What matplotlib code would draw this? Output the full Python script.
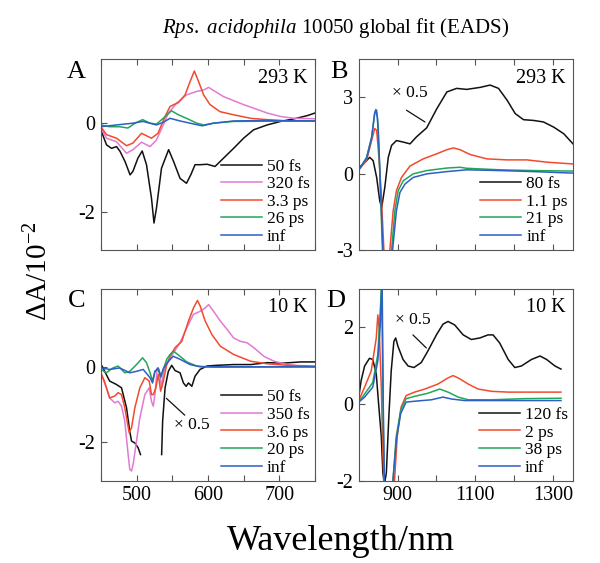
import numpy as np
import matplotlib
matplotlib.use("Agg")
import matplotlib.pyplot as plt
from matplotlib.ticker import MultipleLocator

plt.rcParams['font.family'] = 'Liberation Serif'
plt.rcParams['mathtext.fontset'] = 'custom'
plt.rcParams['mathtext.rm'] = 'Liberation Serif'
plt.rcParams['mathtext.it'] = 'Liberation Serif:italic'
plt.rcParams['axes.unicode_minus'] = False

# ---- Panel A (293 K, visible) ----
a_black_wl = [450, 458, 465, 472, 477, 484, 491, 495, 502, 508, 514, 521, 524.5, 528, 535, 545,
              552, 561, 570, 576, 582, 589, 599, 610, 622, 636, 650, 664, 683, 702, 721, 739, 750]
a_black = [-0.15, -0.49, -0.57, -0.53, -0.64, -0.87, -1.17, -1.09, -0.79, -0.63, -0.94, -1.70, -2.26,
           -1.92, -1.02, -0.60, -0.87, -1.25, -1.36, -1.17, -0.94, -0.94, -0.93, -0.98, -0.79, -0.57,
           -0.34, -0.15, -0.04, 0.04, 0.10, 0.17, 0.23]
a_pink_wl = [450, 458, 472, 486, 495, 507, 519, 528, 537.5, 544.6, 556, 570, 584.5, 594, 601, 610,
             622, 636, 650, 664, 683, 702, 721, 750]
a_pink = [-0.11, -0.34, -0.42, -0.68, -0.60, -0.43, -0.53, -0.38, -0.04, 0.23, 0.45, 0.64, 0.72,
          0.75, 0.81, 0.72, 0.60, 0.51, 0.42, 0.34, 0.23, 0.15, 0.11, 0.10]
a_red_wl = [450, 458, 472, 486, 495, 507, 521, 530, 540, 547, 559, 568, 575, 581, 587, 594, 603,
            617, 636, 660, 683, 711, 750]
a_red = [-0.08, -0.26, -0.34, -0.51, -0.45, -0.23, -0.34, -0.23, 0.15, 0.38, 0.47, 0.64, 0.94,
         1.18, 0.94, 0.64, 0.42, 0.26, 0.19, 0.11, 0.08, 0.05, 0.05]
a_green_wl = [450, 462, 476.5, 488, 498, 508.5, 519, 528, 537.5, 549, 558.7, 570, 584.5, 594, 608, 636, 750]
a_green = [-0.04, -0.08, -0.08, -0.11, 0.0, 0.08, 0.0, -0.02, 0.11, 0.28, 0.19, 0.11, 0.0, -0.04,
           0.0, 0.04, 0.05]
a_blue_wl = [450, 472, 495, 509, 528, 537.5, 547, 561, 575, 592, 608, 636, 683, 750]
a_blue = [-0.08, -0.04, 0.0, 0.04, -0.04, 0.02, 0.11, 0.05, 0.0, -0.06, 0.0, 0.05, 0.06, 0.05]
a_labels = ['50 fs', '320 fs', '3.3 ps', '26 ps', 'inf']

# ---- Panel B (293 K, near-IR) ----
b_black_wl = [802, 820, 828, 837, 846, 854, 859, 867, 876, 884.5, 897, 914.5, 932, 949, 975, 1001,
              1027, 1052, 1078, 1113, 1138.5, 1160, 1182, 1203, 1224.5, 1250.6, 1276, 1302, 1328, 1352]
b_black = [0.25, 0.51, 0.64, 0.51, -0.15, -1.07, -1.33, -0.54, 0.64, 1.11, 1.30, 1.24, 1.17, 1.45,
           1.80, 2.55, 3.21, 3.35, 3.31, 3.39, 3.48, 3.35, 2.89, 2.36, 2.12, 2.09, 2.03, 1.83, 1.57, 1.17]
b_red_wl = [802, 820, 833, 841, 846, 852.6, 858.7, 864.6, 872, 880, 888.6, 897, 910, 932, 966,
            1001, 1027, 1044, 1061, 1087, 1130, 1182, 1233, 1285, 1352]
b_red = [0.19, 0.51, 1.30, 1.77, 1.70, 0.51, -1.07, -3.0, -4.5, -3.0, -1.46, -0.67, -0.15, 0.30,
         0.58, 0.78, 0.94, 1.01, 0.94, 0.75, 0.58, 0.54, 0.54, 0.45, 0.38]
b_green_wl = [802, 820, 833, 841, 846, 850, 856, 861, 872, 884.5, 893, 901.5, 914.5, 940, 975,
              1027, 1061, 1078, 1164, 1250, 1352]
b_green = [0.19, 0.64, 1.43, 2.36, 2.49, 1.83, -0.80, -3.0, -4.5, -3.0, -1.46, -0.67, -0.28, -0.01,
           0.12, 0.22, 0.25, 0.21, 0.15, 0.12, 0.10]
b_blue_wl = [802, 820, 833, 841, 844, 848, 852, 857, 862, 874, 887, 897, 906, 919, 940, 975, 1027,
             1078, 1164, 1250, 1352]
b_blue = [0.19, 0.60, 1.40, 2.40, 2.52, 2.20, 1.00, -1.00, -3.0, -4.5, -3.0, -1.46, -0.74, -0.41,
          -0.15, -0.01, 0.08, 0.15, 0.12, 0.08, 0.02]
b_labels = ['80 fs', '1.1 ps', '21 ps', 'inf']

# ---- Panel C (10 K, visible) ----
c_black_wl = [450, 462.4, 471.8, 479, 486, 490.6, 493, 497.7, 502.3, 505.6, 520, 535.2, 536.6, 540,
              544.6, 549.3, 554, 561, 565.7, 569.5, 572.8, 577.5, 582, 589, 598.6, 612.7, 636, 660,
              683, 706.6, 730, 750]
c_black = [0.08, -0.38, -0.47, -0.56, -1.09, -1.72, -1.98, -2.03, -2.16, -2.34, np.nan, -2.34, -1.45,
           -0.56, -0.12, 0.04, -0.10, -0.16, -0.43, -0.52, -0.43, -0.52, -0.25, -0.07, 0.02, 0.04,
           0.06, 0.06, 0.11, 0.10, 0.13, 0.13]
c_pink_wl = [450, 457.7, 462.4, 469.5, 474.2, 479, 483.6, 488.3, 490.6, 493, 495.3, 500, 504.7,
             511.7, 517.8, 521, 523.5, 525.8, 529, 532, 535.2, 537.6, 542.3, 547, 551.6, 561, 570.4,
             579.8, 589.2, 596.2, 601, 608, 617.4, 626.8, 636, 645.5, 655, 664.3, 678.4, 692.5,
             711.3, 730, 750]
c_pink = [-0.16, -0.56, -0.83, -0.96, -0.92, -1.05, -1.45, -2.34, -2.74, -2.78, -2.60, -1.98, -1.36,
          -0.74, -0.56, -0.92, -1.05, -0.74, -0.03, -0.12, -0.56, -0.16, 0.06, 0.20, 0.37, 0.64,
          1.04, 1.40, 1.48, 1.57, 1.66, 1.48, 1.22, 1.00, 0.77, 0.68, 0.64, 0.51, 0.28, 0.15, 0.06,
          0.02, 0.0]
c_red_wl = [450, 455, 462.4, 469.5, 474.2, 479, 483.6, 489.7, 493, 497.7, 504.7, 511.7, 517.8, 521,
            523.5, 527.2, 530.5, 533.8, 537.6, 542.3, 547, 554, 563.4, 572.8, 579.8, 585.4, 589.2,
            596.2, 605.6, 617.4, 636, 659.6, 683, 711.3, 750]
c_red = [-0.16, -0.38, -0.83, -0.78, -0.69, -0.74, -1.09, -1.76, -1.63, -1.09, -0.56, -0.29, -0.38,
         -0.74, -0.74, -0.56, -0.20, -0.65, -0.38, 0.06, 0.28, 0.51, 0.68, 1.22, 1.57, 1.77, 1.62,
         1.22, 0.86, 0.55, 0.33, 0.15, 0.08, 0.04, 0.02]
c_green_wl = [450, 457.7, 467, 474.2, 483.6, 490.6, 500, 508.5, 514, 519, 522.5, 525.8, 530.5, 534,
              537.6, 542.3, 547, 551.6, 561, 570.4, 584.5, 608, 750]
c_green = [-0.07, -0.16, -0.03, 0.02, -0.16, -0.12, 0.06, 0.24, 0.11, -0.16, -0.38, -0.12, -0.07,
           -0.29, -0.07, 0.20, 0.33, 0.42, 0.28, 0.13, 0.02, -0.01, 0.0]
c_blue_wl = [450, 462.4, 476.5, 490.6, 500, 509.4, 519, 522.5, 525.8, 530.5, 534, 538, 544.6, 551.6,
             561, 575, 589.2, 636, 750]
c_blue = [-0.03, -0.07, -0.03, -0.16, -0.12, -0.07, -0.29, -0.43, -0.12, -0.03, -0.25, -0.03, 0.15,
          0.28, 0.20, 0.06, 0.0, 0.0, 0.0]
c_labels = ['50 fs', '350 fs', '3.6 ps', '20 ps', 'inf']

# ---- Panel D (10 K, near-IR) ----
d_black_wl = [800, 806, 815, 827.5, 836, 845, 851, 858, 862, 866, 871, 877, 883.5, 890.4, 895, 901,
              914, 927, 942, 961, 978, 1000, 1017, 1030, 1047, 1069, 1090, 1112, 1133, 1146, 1163,
              1185, 1202, 1219, 1245, 1267, 1284, 1305.5, 1321]
d_black = [0.18, 0.61, 0.99, 1.19, 1.16, 0.78, 0.01, -0.85, -1.79, -2.1, -1.79, -0.42, 0.86, 1.63,
           1.72, 1.50, 1.16, 0.99, 0.95, 1.08, 1.38, 1.80, 2.08, 2.15, 2.06, 1.80, 1.68, 1.72, 1.80,
           1.80, 1.59, 1.16, 0.95, 0.99, 1.16, 1.25, 1.16, 0.99, 0.91]
d_red_wl = [800, 815, 832, 845, 849, 852.5, 858, 862, 865, 878, 892, 899, 909, 922, 944, 970, 1004,
            1030, 1043, 1056, 1082, 1107.5, 1142, 1185, 1245, 1321]
d_red = [0.09, 0.44, 0.86, 1.72, 2.32, 1.97, 0.44, -1.27, -2.0, -3.5, -2.0, -0.85, -0.08, 0.22,
         0.31, 0.39, 0.52, 0.68, 0.74, 0.68, 0.52, 0.39, 0.33, 0.31, 0.31, 0.31]
d_green_wl = [800, 815, 836, 849, 856, 859, 862, 865, 876, 888, 896.4, 908, 922, 944, 978, 1008.5,
              1030, 1056, 1082, 1142, 1228, 1321]
d_green = [0.05, 0.26, 0.56, 1.29, 2.57, 3.3, 0.44, -2.0, -3.5, -2.0, -0.85, -0.16, 0.14, 0.20,
           0.28, 0.39, 0.31, 0.18, 0.11, 0.11, 0.14, 0.15]
d_blue_wl = [800, 815, 836, 849, 856, 860, 863, 866, 877, 888, 897, 908, 922, 952, 987, 1017, 1039,
             1073, 1142, 1321]
d_blue = [0.05, 0.18, 0.44, 1.12, 2.15, 3.3, 0.0, -2.0, -3.5, -2.0, -0.9, -0.25, 0.05, 0.08, 0.11,
          0.18, 0.13, 0.09, 0.09, 0.09]
d_labels = ['120 fs', '2 ps', '38 ps', 'inf']

col = {'black': '#111111', 'pink': '#e27ad2', 'red': '#f24a2c', 'green': '#22a65a', 'blue': '#2d5fc4'}

fig = plt.figure(figsize=(6, 5.63), dpi=100)
axA = fig.add_axes([0.168, 0.556, 0.357, 0.339])
axB = fig.add_axes([0.598, 0.556, 0.357, 0.339])
axC = fig.add_axes([0.168, 0.146, 0.357, 0.341])
axD = fig.add_axes([0.598, 0.146, 0.357, 0.341])


def draw(ax, series, labels):
    for (wl, da, c) in series:
        ax.plot(wl, da, color=col[c], lw=1.1)
    handles = ax.get_lines()
    ax.legend(handles, labels, loc='lower right', frameon=False, fontsize=12.5,
              handlelength=2.35, handletextpad=0.3, labelspacing=0.08,
              borderaxespad=0.1, borderpad=0.2)
    for s in ax.spines.values():
        s.set_color('#555555')
        s.set_linewidth(0.8)
    ax.tick_params(which='both', direction='in', top=True, length=4, width=0.8,
                   labelsize=14.5, pad=4, color='#555555')


draw(axA, [(a_black_wl, a_black, 'black'), (a_pink_wl, a_pink, 'pink'), (a_red_wl, a_red, 'red'),
           (a_green_wl, a_green, 'green'), (a_blue_wl, a_blue, 'blue')], a_labels)
draw(axB, [(b_black_wl, b_black, 'black'), (b_red_wl, b_red, 'red'),
           (b_green_wl, b_green, 'green'), (b_blue_wl, b_blue, 'blue')], b_labels)
draw(axC, [(c_black_wl, c_black, 'black'), (c_pink_wl, c_pink, 'pink'), (c_red_wl, c_red, 'red'),
           (c_green_wl, c_green, 'green'), (c_blue_wl, c_blue, 'blue')], c_labels)
draw(axD, [(d_black_wl, d_black, 'black'), (d_red_wl, d_red, 'red'),
           (d_green_wl, d_green, 'green'), (d_blue_wl, d_blue, 'blue')], d_labels)

for ax in (axA, axC):
    ax.set_xlim(450, 750)
    ax.xaxis.set_major_locator(MultipleLocator(100))
    ax.xaxis.set_minor_locator(MultipleLocator(50))
    ax.set_yticks([-2, 0])
for ax in (axB, axD):
    ax.set_xlim(800, 1352)
    ax.set_xticks([900, 1100, 1300])
    ax.set_xticks([1000, 1200], minor=True)

axA.set_ylim(-2.87, 1.45)
axC.set_ylim(-3.04, 2.08)
axB.set_ylim(-3, 4.5)
axB.set_yticks([-3, 0, 3])
axD.set_ylim(-1.98, 3.0)
axD.set_yticks([-2, 0, 2])
axA.tick_params(labelbottom=False)
axB.tick_params(labelbottom=False)

for ax, t in ((axA, '293 K'), (axB, '293 K'), (axC, '10 K'), (axD, '10 K')):
    ax.text(0.965, 0.95, t, transform=ax.transAxes, ha='right', va='top', fontsize=14.5)

# x 0.5 markers
axB.text(932, 3.16, '× 0.5', ha='center', va='center', fontsize=12.5)
axB.annotate('', xy=(970.5, 2.03), xytext=(923, 2.49),
             arrowprops=dict(arrowstyle='-', lw=0.9, color='#111111', shrinkA=0, shrinkB=0))
axC.text(577.5, -1.55, '× 0.5', ha='center', va='center', fontsize=12.5)
axC.annotate('', xy=(567.6, -1.29), xytext=(541.8, -0.84),
             arrowprops=dict(arrowstyle='-', lw=0.9, color='#111111', shrinkA=0, shrinkB=0))
axD.text(939.5, 2.18, '× 0.5', ha='center', va='center', fontsize=12.5)
axD.annotate('', xy=(974, 1.46), xytext=(939.5, 1.80),
             arrowprops=dict(arrowstyle='-', lw=0.9, color='#111111', shrinkA=0, shrinkB=0))

for lab, x, y in (('A', 67, 72), ('B', 330, 72), ('C', 68, 301), ('D', 326, 301)):
    fig.text(x / 600, 1 - y / 563, lab, ha='left', va='center', fontsize=19)

fig.text(336 / 600, 1 - 33 / 563, r'$\mathit{Rps.\ acidophila}$ 10050 global fit (EADS)',
         ha='center', va='baseline', fontsize=15)
fig.text(341 / 600, 1 - 550 / 563, 'Wavelength/nm', ha='center', va='baseline', fontsize=26)
fig.text(39 / 600, 1 - 271 / 563, r'ΔA/10$^{-2}$', ha='center', va='center', rotation=90,
         fontsize=21)

fig.savefig('out.png', dpi=100)
